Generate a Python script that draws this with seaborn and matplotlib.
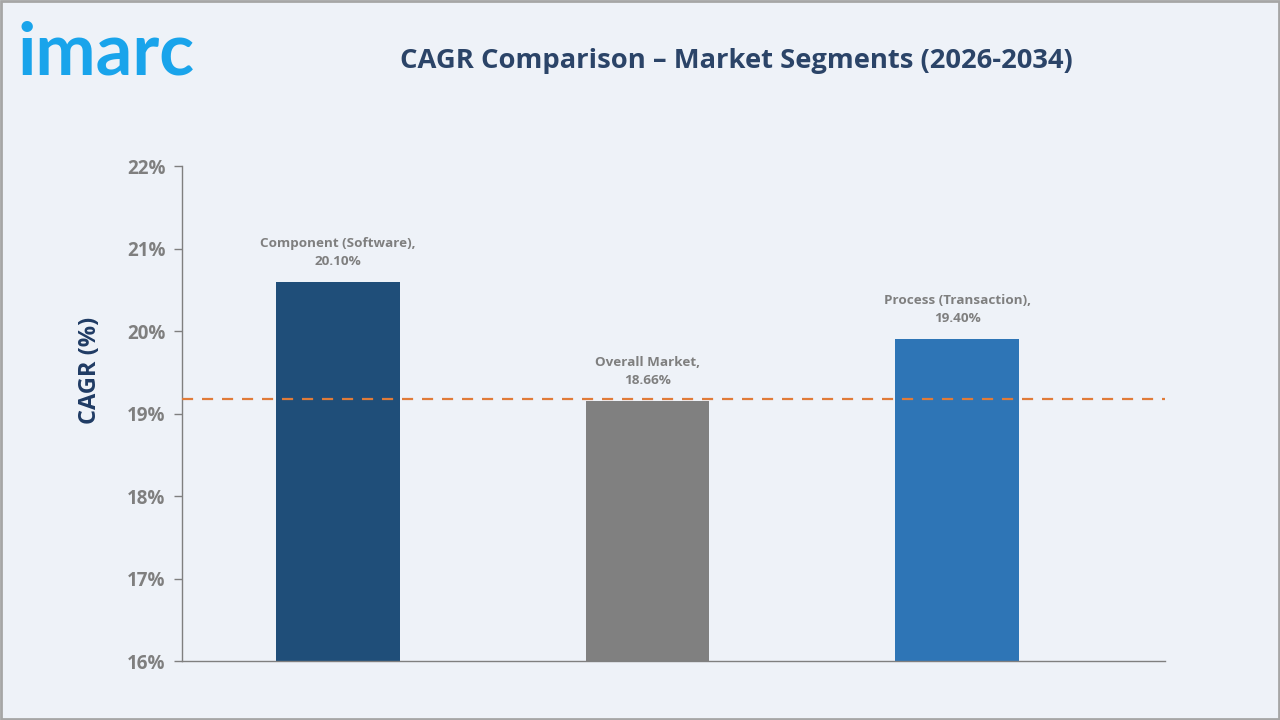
import numpy as np
import pandas as pd
import matplotlib.pyplot as plt
import seaborn as sns

# data
segments = ['Component (Software)', 'Overall Market', 'Process (Transaction)']
bar_tops = [20.60, 19.15, 19.90]          # where the bars end on the axis
label_vals = ['20.10%', '18.66%', '19.40%']  # values printed above the bars
ref_line = 19.18
colors = ['#1F4E79', '#808080', '#2E75B6']

df = pd.DataFrame({'Segment': segments, 'CAGR': bar_tops})

sns.set_style('white')
plt.rcParams['font.family'] = ['Open Sans', 'DejaVu Sans']
bg = '#EEF2F8'

fig = plt.figure(figsize=(12.8, 7.2), dpi=100, facecolor=bg)
ax = fig.add_axes([0.1422, 0.0819, 0.768, 0.6875])
ax.set_facecolor(bg)

sns.barplot(data=df, x='Segment', y='CAGR', hue='Segment', palette=colors,
            width=0.40, legend=False, ax=ax, bottom=0, saturation=1, linewidth=0)
ax.set_ylim(16, 22)
ax.set_xlim(-0.504, 2.672)
ax.set_yticks(np.arange(16, 23, 1))
ax.set_yticklabels([f'{v}%' for v in range(16, 23)], fontsize=13.5,
                   fontweight='bold', color='#7F7F7F')
ax.set_xticks([])
ax.set_xlabel('')
ax.set_ylabel('CAGR (%)', fontsize=17, fontweight='bold', color='#1F3B64')
ax.yaxis.set_label_coords(-0.081, 0.588)
ax.tick_params(axis='y', direction='out', length=6, width=1, color='#7F7F7F', pad=6, left=True)

for s in ['top', 'right']:
    ax.spines[s].set_visible(False)
for s in ['left', 'bottom']:
    ax.spines[s].set_color('#7F7F7F')
    ax.spines[s].set_linewidth(1)

ax.axhline(ref_line, color='#E07B39', linestyle=(0, (5, 4)), linewidth=1.6, zorder=3)

for i, (seg, top, lab) in enumerate(zip(segments, bar_tops, label_vals)):
    ax.text(i, top + 0.17, f'{seg},\n{lab}', ha='center', va='bottom',
            fontsize=9.7, fontweight='bold', color='#7F7F7F', linespacing=1.5)

fig.text(0.575, 0.915, 'CAGR Comparison \u2013 Market Segments (2026-2034)',
         ha='center', va='center', fontsize=19.7, fontweight='bold', color='#2B4468')
fig.text(0.014, 0.925, 'imarc', ha='left', va='center', fontsize=52,
         fontweight='bold', color='#19A4EB', family=['Lato', 'DejaVu Sans'])

# thin grey frame round the figure
fig.patches.append(plt.Rectangle((0.001, 0.001), 0.998, 0.998, transform=fig.transFigure,
                                 fill=False, edgecolor='#A6A6A6', linewidth=2))

fig.savefig('out.png', dpi=100, facecolor=bg)
